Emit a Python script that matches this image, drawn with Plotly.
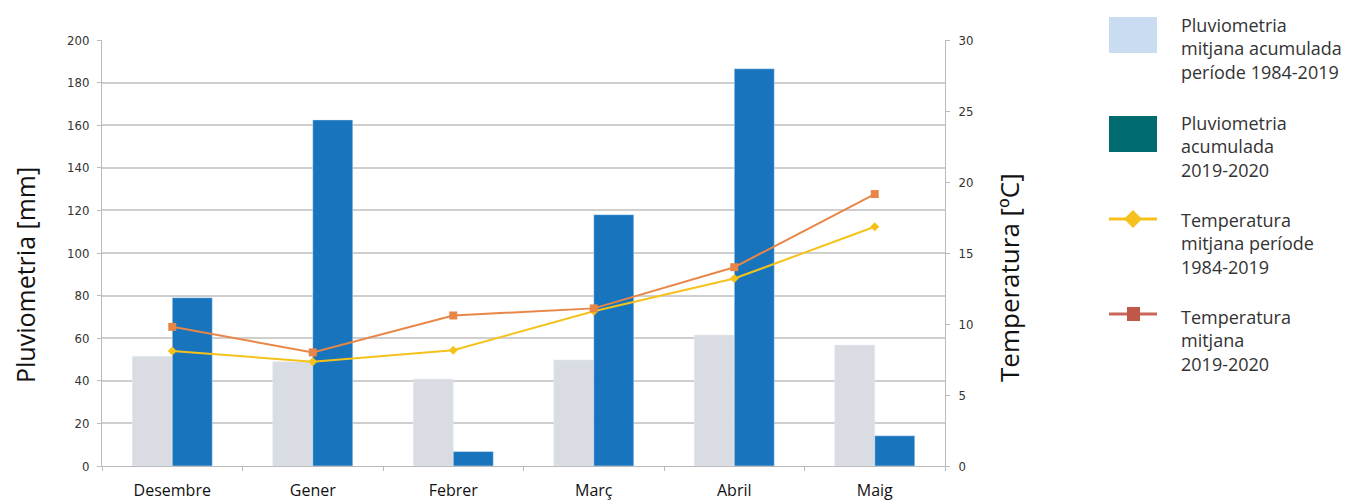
import plotly.graph_objects as go

months = ["Desembre", "Gener", "Febrer", "Març", "Abril", "Maig"]
rain_mean = [51.5, 49.0, 40.8, 49.8, 61.5, 56.8]
rain_2020 = [79.0, 162.5, 6.8, 118.0, 186.5, 14.2]
temp_mean = [8.1, 7.35, 8.15, 10.9, 13.2, 16.85]
temp_2020 = [9.8, 8.0, 10.6, 11.1, 14.0, 19.15]

legend_labels = [
    "Pluviometria<br>mitjana acumulada<br>període 1984-2019",
    "Pluviometria<br>acumulada<br>2019-2020",
    "Temperatura<br>mitjana període<br>1984-2019",
    "Temperatura<br>mitjana<br>2019-2020",
]

OX, OY = 7, 8  # page body offset
W, H = 1349 - OX, 503 - OY
L, R, T, B = 101 - OX, 944 - OX, 40 - OY, 466 - OY

def px(x):
    return (x - OX - L) / (R - L)

def py(y):
    return (B - (y - OY)) / (B - T)

fig = go.Figure()
fig.add_trace(go.Bar(x=months, y=rain_mean, marker_color="#d9dde3", name=legend_labels[0], showlegend=False))
fig.add_trace(go.Bar(x=months, y=rain_2020, marker_color="#1874bd", name=legend_labels[1], showlegend=False))
fig.add_trace(go.Scatter(x=months, y=temp_mean, yaxis="y2", mode="lines+markers",
                         line=dict(color="#f5c21b", width=2),
                         marker=dict(symbol="diamond", size=7, color="#f5c21b"),
                         showlegend=False))
fig.add_trace(go.Scatter(x=months, y=temp_2020, yaxis="y2", mode="lines+markers",
                         line=dict(color="#e88648", width=2),
                         marker=dict(symbol="square", size=8, color="#e88648"),
                         showlegend=False))

grid = "#cfcfcf"
fig.update_layout(
    width=W, height=H,
    margin=dict(l=L, r=W - R, t=T, b=H - B, autoexpand=False),
    paper_bgcolor="white", plot_bgcolor="white",
    barmode="group", bargap=0.43, bargroupgap=0,
    font=dict(family="Open Sans", color="#222"),
    xaxis=dict(showline=True, linecolor="#bbbbbb", linewidth=1, ticks="outside",
               tickson="boundaries", ticklen=4, tickcolor="#bbbbbb",
               ticklabelstandoff=10, automargin=False,
               tickfont=dict(size=16, color="#111"), showgrid=False),
    yaxis=dict(range=[0, 200], dtick=20, showgrid=True, gridcolor=grid, gridwidth=1.5,
               showline=True, linecolor="#bbbbbb", ticks="outside", ticklen=4,
               ticklabelstandoff=5, automargin=False,
               tickcolor="#bbbbbb", tickfont=dict(size=13, color="#333", family="DejaVu Sans Condensed"),
               zeroline=False),
    yaxis2=dict(range=[0, 30], dtick=5, overlaying="y", side="right", showgrid=False,
                showline=True, linecolor="#bbbbbb", ticks="outside", ticklen=4,
                ticklabelstandoff=6, automargin=False,
                tickcolor="#bbbbbb", tickfont=dict(size=13, color="#333", family="DejaVu Sans Condensed"),
                zeroline=False),
    showlegend=False,
)

annotations = [
    dict(text="Pluviometria [mm]", x=px(24), y=py(275), xref="paper", yref="paper",
         textangle=-90, showarrow=False, font=dict(size=25, color="#111"),
         xanchor="center", yanchor="middle"),
    dict(text="Temperatura [ºC]", x=px(1008), y=py(278), xref="paper", yref="paper",
         textangle=-90, showarrow=False, font=dict(size=26, color="#111"),
         xanchor="center", yanchor="middle"),
]
shapes = []

# custom legend
tops = [11, 109, 206, 303]
for i, lab in enumerate(legend_labels):
    annotations.append(dict(text=lab, x=px(1178), y=py(tops[i]), xref="paper", yref="paper",
                            showarrow=False, align="left", xanchor="left", yanchor="top",
                            font=dict(size=18, color="#333")))
shapes.append(dict(type="rect", xref="paper", yref="paper", x0=px(1108), x1=px(1156),
                   y0=py(53), y1=py(17), fillcolor="#c9dcf1", line=dict(width=0)))
shapes.append(dict(type="rect", xref="paper", yref="paper", x0=px(1108), x1=px(1156),
                   y0=py(152), y1=py(116), fillcolor="#006b6f", line=dict(width=0)))
# yellow line + diamond
shapes.append(dict(type="line", xref="paper", yref="paper", x0=px(1108), x1=px(1156),
                   y0=py(219), y1=py(219), line=dict(color="#f6c11c", width=3)))
dx, dy = 9, 9
cx, cy = 1132, 219
shapes.append(dict(type="path", xref="paper", yref="paper",
                   path=f"M {px(cx-dx)} {py(cy)} L {px(cx)} {py(cy-dy)} L {px(cx+dx)} {py(cy)} L {px(cx)} {py(cy+dy)} Z",
                   fillcolor="#f6c11c", line=dict(width=0)))
# red line + square
shapes.append(dict(type="line", xref="paper", yref="paper", x0=px(1108), x1=px(1156),
                   y0=py(314), y1=py(314), line=dict(color="#c9675a", width=3)))
shapes.append(dict(type="rect", xref="paper", yref="paper", x0=px(1126), x1=px(1139),
                   y0=py(321), y1=py(307), fillcolor="#c0584a", line=dict(width=0)))

fig.update_layout(annotations=annotations, shapes=shapes)
fig.write_html("out.html")
